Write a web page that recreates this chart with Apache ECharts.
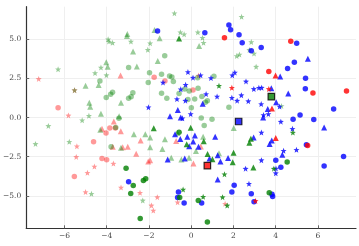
<!DOCTYPE html>
<html><head><meta charset="utf-8">
<script src="https://cdn.jsdelivr.net/npm/echarts@6/dist/echarts.min.js"></script>
<style>html,body{margin:0;padding:0;background:#fff}#c{width:359px;height:246px}</style>
</head><body><div id="c"></div>
<script>
// ---- data (x, y) ----
const lightRedCircles = [[-6.30,0.63],[-1.75,2.58],[-1.24,2.34],[0.09,1.76],[-4.62,-1.55],[-4.03,-0.99],[-3.85,-0.67],[-3.59,-0.66],[-4.22,-2.62],[-4.00,-2.70],[-5.53,-3.77]];
const lightRedTriangles = [[-3.34,2.69],[-3.66,-0.25],[-4.22,-0.72],[-3.33,-0.87],[-2.39,-1.46],[-3.71,-1.87],[-3.24,-1.89],[-3.00,-1.86],[-2.60,-2.31],[-2.03,-2.81],[-1.94,-2.72],[-0.71,-1.49],[0.46,-1.85],[0.11,-2.93]];
const lightRedStars = [[-7.22,2.47],[-5.52,1.75],[-5.81,0.14],[0.35,2.68],[-5.41,-1.83],[-5.44,-2.51],[-3.68,-2.94],[-4.58,-3.12],[-4.91,-3.53],[-5.00,-4.76],[-3.32,-4.47],[-2.42,-4.80],[-1.60,-5.08],[-1.88,-5.61],[-1.79,-5.93],[-0.64,-5.41],[1.61,-5.51]];
const lightGreenCircles = [[-1.25,3.95],[-2.96,3.20],[-1.97,2.86],[-2.03,2.24],[-1.40,2.77],[-1.02,2.66],[-0.91,2.59],[-0.84,2.31],[-0.57,1.53],[-0.30,1.83],[-0.09,1.70],[-1.40,1.55],[-1.15,1.23],[-0.15,1.15],[-4.32,2.34],[-4.02,1.29],[-3.81,1.49],[-3.72,1.62],[-2.96,1.23],[-2.84,1.33],[-2.76,1.59],[-3.42,-0.04],[1.08,2.64],[0.31,2.55],[0.33,1.87],[0.17,1.19],[0.51,1.34],[0.77,1.08],[0.68,0.98],[0.01,0.63],[1.79,0.66],[0.48,-0.02],[0.99,-0.11],[-3.79,-1.87],[-3.57,-0.64],[0.62,-0.51]];
const lightGreenTriangles = [[-1.73,5.59],[-1.49,5.06],[-3.02,5.34],[-3.04,5.21],[-2.75,4.22],[-1.58,3.62],[-4.02,3.53],[-3.95,3.25],[-2.57,3.26],[-4.38,2.08],[-5.00,2.04],[-4.82,0.95],[-4.78,0.69],[-4.27,0.25],[-3.32,0.95],[-3.41,0.09],[0.38,4.57],[-4.30,-0.77],[-2.71,-1.06],[-2.17,-1.06],[-1.94,-1.28],[-1.24,-1.38],[-3.32,-1.92],[-1.94,-1.89],[-1.36,-2.01],[-0.94,-2.56],[-0.65,-0.98],[-0.46,-2.68],[-0.10,-2.56],[2.02,-0.67],[0.57,-1.22],[0.23,-2.13],[1.32,-2.28]];
const lightGreenStars = [[-0.79,6.66],[-0.51,5.45],[-0.33,5.32],[-3.93,5.00],[-3.89,4.85],[-3.72,4.78],[-2.85,4.86],[-1.94,4.75],[-2.05,4.33],[-6.30,3.09],[-4.55,2.85],[-4.27,3.20],[-4.01,2.71],[-5.52,1.75],[-4.84,0.12],[-5.16,-0.17],[2.39,6.44],[0.32,5.45],[0.54,5.10],[0.59,4.78],[2.85,4.83],[2.76,4.32],[2.16,3.93],[2.29,4.03],[2.98,4.09],[3.08,3.25],[4.28,0.74],[-6.76,-0.53],[-7.37,-1.68],[-5.77,-1.55],[-4.72,-4.87],[-2.29,-5.29]];
const blueCircles = [[-1.59,5.53],[1.79,5.91],[1.87,5.61],[0.65,5.42],[2.27,5.29],[2.42,4.78],[3.32,4.48],[2.85,4.27],[5.00,4.75],[4.89,3.53],[4.57,3.14],[5.42,2.51],[5.41,1.84],[6.75,0.54],[5.16,0.17],[4.83,-0.10],[5.81,-0.13],[-2.96,-4.09],[-0.60,-4.76],[-0.64,-5.11],[-0.33,-5.45],[0.50,-5.45],[2.04,-4.32],[1.93,-4.76],[2.85,-4.87],[3.83,-4.89],[3.86,-5.04],[2.98,-5.37],[5.46,-1.73],[7.22,-2.49],[6.30,-3.09],[4.01,-2.72],[4.25,-3.17]];
const blueTriangles = [[-1.00,0.09],[-0.63,0.48],[-0.49,0.01],[0.55,0.88],[5.53,3.76],[4.22,2.63],[4.60,1.53],[4.03,0.98],[3.63,0.55],[3.41,0.01],[3.80,1.87],[-0.76,-1.06],[-0.51,-1.36],[-0.18,-1.23],[-0.09,-1.83],[-1.11,-2.67],[-0.30,-2.62],[0.18,-1.15],[0.10,-1.53],[0.35,-1.87],[1.14,-1.22],[0.87,-2.61],[1.26,-2.40],[1.39,-2.80],[1.75,-2.58],[1.26,-3.95],[2.96,-1.27],[3.82,-1.46],[3.72,-1.68],[4.32,-2.37],[6.30,-0.64]];
const blueStars = [[-0.15,2.91],[0.09,2.55],[-1.33,2.24],[-0.26,2.10],[-0.49,1.81],[-0.67,1.18],[-0.27,1.08],[-2.02,0.66],[-0.02,0.23],[-0.41,-0.04],[0.45,2.70],[0.94,2.53],[2.07,2.88],[1.95,2.70],[2.60,2.31],[2.97,1.83],[3.21,1.90],[3.34,1.91],[0.71,1.50],[1.23,1.35],[1.93,1.27],[2.38,1.43],[2.18,1.08],[2.71,1.05],[3.32,0.86],[4.19,0.71],[3.43,0.16],[3.66,0.23],[4.25,-0.26],[4.80,-0.72],[3.33,-0.95],[4.38,-2.12],[4.99,-2.06],[3.33,-2.72],[2.58,-3.26],[2.74,-4.23],[4.02,-3.25],[4.01,-3.55]];
const greenCircles = [[-0.57,-0.93],[-3.08,-3.23],[-2.74,-4.33],[-2.86,-4.84],[-2.26,-4.01],[-2.15,-3.90],[-2.41,-6.45],[-0.54,-5.10],[3.70,-4.80],[4.55,-2.84],[0.34,-5.30],[0.77,-6.67]];
const greenTriangles = [[-0.57,5.05],[-1.77,-0.68],[-0.21,-1.70],[-0.02,-0.65],[2.83,-1.35],[2.76,-1.60],[0.60,-1.51],[0.78,-2.33],[1.01,-2.66],[2.01,-2.24],[1.97,-2.86],[2.95,-3.19]];
const greenStars = [[1.32,2.03],[-0.38,-4.59],[1.58,-3.62],[1.49,-5.08],[0.57,-5.06],[1.71,-5.61],[4.82,-0.96],[3.92,-3.26]];
const redCircles = [[1.58,5.10],[4.72,4.88],[3.68,2.95],[5.77,1.57],[7.36,1.69],[5.52,-1.78]];
const redTriangles = [[4.00,2.69],[3.83,0.58],[4.01,-1.31]];
const redStars = [[1.93,1.90],[3.68,1.83],[3.05,-5.32]];
const centerBlue = [[2.25,-0.25]];
const centerGreen = [[3.80,1.34]];
const centerRed = [[0.77,-3.07]];
const xTicks = [-6,-4,-2,0,2,4,6];
const yTicks = [-5,-2.5,0,2.5,5];

// ---- chart ----
const STAR = 'path://M0,-1 L0.247,-0.34 L0.951,-0.309 L0.399,0.13 L0.588,0.809 L0,0.42 L-0.588,0.809 L-0.399,0.13 L-0.951,-0.309 L-0.247,-0.34 Z';
const LR = 'rgba(255,0,0,0.5)', LG = 'rgba(0,128,0,0.5)';
function s(data, color, symbol, size, extra) {
  return Object.assign({type:'scatter', data, symbol, symbolSize: size, itemStyle:{color}, silent:true, animation:false}, extra||{});
}
const minus = v => String(v).replace('-', '\u2212');
const chart = echarts.init(document.getElementById('c'), null, {renderer:'canvas'});
const font = 'DejaVu Serif';
chart.setOption({
  animation:false,
  grid:{left:22.3, right:3, top:6.7, bottom:17.7, containLabel:false},
  xAxis:{type:'value', min:-7.81, max:7.81,
    axisLine:{show:true, onZero:false, lineStyle:{color:'#333', width:1.2}},
    axisTick:{show:true, inside:true, length:3, customValues:xTicks, lineStyle:{color:'#666'}},
    axisLabel:{customValues:xTicks, formatter:v=>minus(v), fontFamily:font, fontSize:7.5, color:'#444', margin:4},
    splitLine:{show:true, lineStyle:{color:'#efefef', width:1}}},
  yAxis:{type:'value', min:-7.07, max:7.08,
    axisLine:{show:true, onZero:false, lineStyle:{color:'#333', width:1.2}},
    axisTick:{show:true, inside:true, length:3, customValues:yTicks, lineStyle:{color:'#666'}},
    axisLabel:{customValues:yTicks, formatter:v=>minus(v.toFixed(1)), fontFamily:font, fontSize:7.5, color:'#444', margin:5},
    splitLine:{show:true, lineStyle:{color:'#efefef', width:1}}},
  series:[
    s(lightRedCircles, LR, 'circle', 5.5),
    s(lightRedTriangles, LR, 'triangle', 6),
    s(lightRedStars, LR, STAR, 6),
    s(lightGreenCircles, LG, 'circle', 5.5),
    s(lightGreenTriangles, LG, 'triangle', 6),
    s(lightGreenStars, LG, STAR, 6),
    s(blueCircles, '#0000ff', 'circle', 5.5),
    s(blueTriangles, '#0000ff', 'triangle', 6),
    s(blueStars, '#0000ff', STAR, 6),
    s(greenCircles, '#008000', 'circle', 5.5),
    s(greenTriangles, '#008000', 'triangle', 6),
    s(greenStars, '#008000', STAR, 6),
    s(redCircles, '#ff0000', 'circle', 5.5),
    s(redTriangles, '#ff0000', 'triangle', 6),
    s(redStars, '#ff0000', STAR, 6),
    s(centerBlue, '#0000ff', 'rect', 6.5, {itemStyle:{color:'#0000ff', borderColor:'#000', borderWidth:1.2}}),
    s(centerGreen, '#008000', 'rect', 6.5, {itemStyle:{color:'#008000', borderColor:'#000', borderWidth:1.2}}),
    s(centerRed, '#ff0000', 'rect', 6.5, {itemStyle:{color:'#ff0000', borderColor:'#000', borderWidth:1.2}})
  ]
});
</script></body></html>
